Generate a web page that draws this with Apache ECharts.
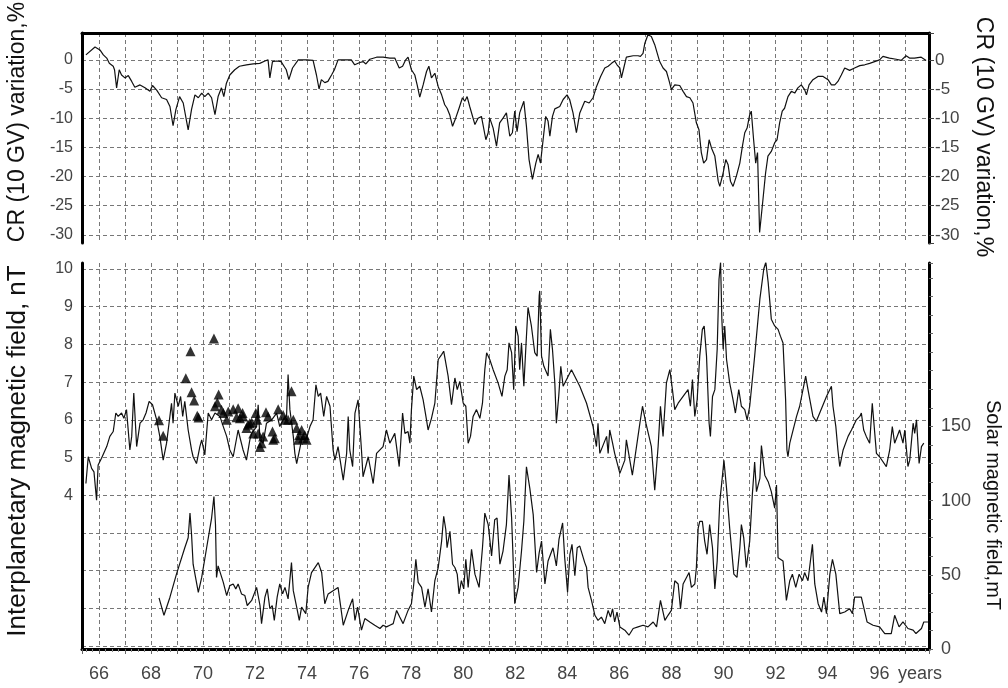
<!DOCTYPE html>
<html>
<head>
<meta charset="utf-8">
<script src="https://cdn.jsdelivr.net/npm/echarts@6/dist/echarts.min.js"></script>
<style>
html,body{margin:0;padding:0;background:#fff;}
#chart{width:1008px;height:688px;}
</style>
</head>
<body>
<div id="chart"></div>
<script>
// ---------- DATA ----------
// Cosmic ray (10 GV) variation, %  (top panel)
const crYears = [65.50,65.85,66.04,66.17,66.30,66.40,66.55,66.60,66.68,66.78,66.87,67.00,67.13,67.26,67.38,67.58,67.77,67.96,68.06,68.22,68.41,68.60,68.73,68.85,68.96,69.10,69.24,69.43,69.56,69.69,69.82,69.95,70.07,70.20,70.33,70.46,70.58,70.71,70.80,70.90,71.03,71.22,71.40,71.67,71.93,72.18,72.38,72.50,72.57,72.67,72.83,73.00,73.20,73.30,73.44,73.66,73.98,74.23,74.36,74.46,74.55,74.68,74.80,74.94,75.05,75.19,75.70,75.83,76.03,76.15,76.26,76.41,76.67,76.92,77.18,77.37,77.54,77.67,77.79,77.88,78.01,78.14,78.23,78.33,78.46,78.59,78.68,78.78,78.91,79.04,79.17,79.29,79.38,79.48,79.59,79.71,79.84,79.97,80.06,80.15,80.25,80.45,80.57,80.70,80.87,80.96,81.02,81.15,81.28,81.40,81.53,81.66,81.79,81.89,81.98,82.07,82.17,82.33,82.43,82.53,82.66,82.79,82.88,82.97,83.07,83.17,83.26,83.33,83.43,83.52,83.71,83.84,83.99,84.09,84.22,84.35,84.48,84.67,84.84,84.99,85.12,85.28,85.44,85.57,85.70,85.82,85.91,86.02,86.08,86.17,86.27,86.53,86.72,86.81,86.91,86.98,87.10,87.23,87.36,87.55,87.68,87.81,87.90,88.00,88.13,88.32,88.45,88.58,88.71,88.83,88.96,89.06,89.15,89.24,89.35,89.45,89.54,89.67,89.80,89.86,89.99,90.09,90.18,90.27,90.37,90.50,90.63,90.73,90.82,90.91,91.01,91.07,91.16,91.24,91.31,91.39,91.43,91.52,91.62,91.71,91.84,91.97,92.06,92.16,92.26,92.35,92.48,92.61,92.74,92.86,92.99,93.12,93.19,93.29,93.44,93.63,93.83,94.02,94.15,94.28,94.40,94.53,94.66,94.85,95.04,95.24,95.43,95.62,95.81,96.00,96.13,96.38,96.64,96.83,97.02,97.15,97.34,97.60,97.79];
const crValues = [0.85,2.2,1.7,0.85,0.3,-0.6,-1.1,-1.7,-4.8,-1.7,-2.6,-3.1,-2.7,-3.7,-4.7,-4.3,-4.8,-5.4,-4.4,-5.2,-6.5,-6.8,-8.0,-11.3,-8.5,-6.3,-7.4,-12.0,-8.5,-6.0,-6.5,-5.7,-6.3,-5.7,-6.5,-9.4,-6.3,-4.8,-6.3,-4.0,-2.6,-1.7,-1.1,-0.85,-0.7,-0.6,-0.2,0,-3.1,-0.3,-0.2,-0.3,-1.7,-3.4,-1.4,0,0,-0.1,-2.6,-5.0,-3.4,-3.9,-3.7,-2.6,-1.7,0,0,-0.85,-0.45,-0.3,-0.7,0.1,0.45,0.45,0.3,0.3,-1.4,-1.1,0,0.45,-1.7,-2.6,-4.3,-6.4,-4.3,-2.0,-1.1,-3.1,-2.3,-4.6,-6.0,-7.7,-8.3,-9.4,-11.4,-10.0,-8.3,-6.5,-7.1,-6.3,-8.0,-11.1,-10.0,-9.7,-13.7,-12.5,-10.0,-11.7,-14.8,-10.8,-10.0,-9.1,-13.1,-12.5,-8.8,-12.3,-9.1,-7.1,-11.4,-17.1,-20.5,-17.7,-16.2,-17.7,-13.7,-9.7,-10.5,-13.1,-9.7,-8.4,-8.0,-6.8,-6.0,-6.8,-9.1,-12.5,-9.1,-7.1,-7.4,-6.5,-4.6,-2.85,-1.4,-1.1,-0.6,-0.2,-0.85,-1.4,-3.1,-1.4,0.45,0.7,0.7,0.6,1.1,2.85,4.3,4.0,2.6,-0.3,-1.4,-2.0,-3.4,-5.1,-4.3,-4.4,-5.4,-6.3,-6.5,-7.4,-10.8,-12.0,-15.9,-17.7,-17.1,-13.7,-15.1,-16.5,-20.8,-21.7,-19.4,-17.1,-18.0,-20.8,-21.7,-19.9,-17.7,-14.8,-12.5,-11.7,-9.4,-8.8,-13.7,-17.7,-15.9,-29.6,-29.9,-23.9,-19.4,-16.5,-15.7,-14.2,-13.7,-10.8,-8.8,-8.3,-6.3,-5.4,-5.7,-4.8,-4.3,-5.1,-6.0,-4.3,-3.4,-2.85,-2.85,-3.4,-4.3,-4.3,-3.7,-2.6,-1.4,-1.8,-1.4,-1.0,-0.85,-0.6,-0.3,0,0.6,0.3,0.1,-0.1,0.7,0.3,0.3,0.45,-0.1];

// Interplanetary magnetic field, nT (bottom panel, left axis)
const imfYears = [65.50,65.59,65.72,65.81,65.91,65.97,66.10,66.30,66.42,66.55,66.65,66.74,66.87,66.96,67.06,67.19,67.26,67.34,67.45,67.58,67.70,67.81,67.93,68.06,68.22,68.34,68.47,68.60,68.79,68.85,68.92,69.05,69.14,69.22,69.30,69.43,69.56,69.62,69.75,69.88,69.95,70.07,70.20,70.33,70.46,70.65,70.78,70.91,71.03,71.16,71.35,71.54,71.67,71.80,71.87,72.06,72.12,72.19,72.31,72.44,72.64,72.83,72.95,73.08,73.21,73.27,73.34,73.47,73.53,73.60,73.79,73.98,74.11,74.23,74.34,74.43,74.52,74.64,74.75,74.88,75.00,75.07,75.19,75.39,75.52,75.58,75.64,75.75,75.84,75.96,76.09,76.15,76.35,76.54,76.67,76.92,77.05,77.18,77.37,77.54,77.67,77.76,77.88,77.95,78.01,78.10,78.21,78.33,78.46,78.59,78.65,78.78,78.91,79.04,79.17,79.25,79.33,79.42,79.55,79.68,79.77,79.87,80.00,80.10,80.19,80.28,80.38,80.51,80.64,80.74,80.83,80.90,81.02,81.15,81.34,81.49,81.60,81.69,81.76,81.86,81.94,82.02,82.11,82.17,82.24,82.33,82.41,82.49,82.62,82.75,82.84,82.92,82.94,83.01,83.10,83.26,83.35,83.43,83.52,83.58,83.67,83.75,83.84,84.16,84.48,84.74,84.99,85.12,85.18,85.25,85.51,85.57,85.63,85.74,85.82,86.02,86.21,86.27,86.50,86.79,86.89,87.02,87.14,87.23,87.36,87.49,87.58,87.68,87.81,87.94,88.04,88.13,88.26,88.45,88.64,88.73,88.81,88.90,88.99,89.09,89.19,89.26,89.35,89.45,89.50,89.58,89.67,89.76,89.83,89.89,89.94,89.99,90.05,90.12,90.24,90.37,90.46,90.59,90.69,90.82,90.91,91.01,91.20,91.40,91.55,91.63,91.72,91.84,91.97,92.10,92.19,92.29,92.39,92.44,92.48,92.55,92.81,92.93,93.16,93.25,93.44,93.57,93.70,93.96,94.15,94.21,94.32,94.40,94.47,94.60,94.79,94.92,95.11,95.24,95.30,95.39,95.49,95.62,95.72,95.88,96.00,96.26,96.39,96.49,96.58,96.77,96.90,96.97,97.09,97.16,97.29,97.35,97.42,97.52,97.61,97.70];
const imfValues = [4.31,5.02,4.71,4.62,3.87,4.8,4.98,5.29,5.56,5.69,6.18,6.09,6.18,6.04,6.27,5.2,5.56,6.71,5.29,5.91,6.0,6.18,6.49,6.4,6.0,5.56,4.93,5.38,6.44,5.91,6.71,6.36,6.62,6.09,6.49,5.73,5.2,5.02,4.84,5.29,5.47,5.07,6.18,6.0,6.18,6.09,5.82,5.56,5.2,5.02,5.73,5.2,4.93,5.47,5.64,5.82,6.4,5.47,5.38,5.91,6.0,6.18,5.82,6.0,6.09,7.2,6.27,5.56,5.11,4.84,5.47,5.51,5.82,6.0,6.93,6.62,6.71,6.09,6.62,6.36,5.2,4.93,5.29,4.4,5.11,6.09,5.2,4.76,6.18,6.53,5.2,4.49,5.02,4.31,5.11,5.29,5.73,5.38,5.64,4.76,6.18,5.64,5.69,5.38,6.27,7.16,6.8,6.89,6.53,6.0,5.73,6.04,6.44,7.6,7.73,7.82,7.51,7.16,6.4,7.11,6.8,7.02,6.44,6.36,5.38,5.56,6.09,6.27,6.04,6.44,7.33,7.78,7.6,7.33,6.98,6.62,7.16,7.33,8.04,7.78,6.8,8.49,8.22,7.33,8.04,6.89,7.96,8.98,8.49,7.78,7.69,9.29,9.42,7.69,7.42,7.16,8.4,7.87,6.98,5.91,6.62,7.42,6.89,7.33,6.89,6.44,5.82,5.29,5.91,5.11,5.56,5.11,5.73,5.38,5.11,4.58,4.93,5.47,4.53,5.91,6.36,5.91,5.56,5.29,4.13,5.29,6.36,5.56,6.98,7.33,6.8,6.27,6.44,6.62,6.8,6.36,7.07,6.09,6.53,7.69,8.4,8.49,7.69,5.91,5.56,6.62,6.8,7.87,9.73,10.18,8.67,7.87,8.49,7.6,6.98,6.53,6.18,6.8,6.36,6.27,6.0,6.36,7.69,9.2,10.0,10.18,9.64,8.67,8.49,8.4,8.22,8.04,6.53,5.2,5.02,5.38,6.09,6.36,7.16,6.8,6.09,5.96,6.18,6.62,6.89,6.36,5.82,5.2,4.76,5.2,5.56,5.73,6.0,6.09,6.18,5.73,5.56,5.38,6.44,5.11,5.02,4.76,5.2,5.82,5.38,5.73,5.38,5.73,4.76,4.93,5.91,5.64,6.0,4.84,5.29,5.38];

// Satellite IMF points (triangles), nT
const triYears = [68.31,68.47,69.34,69.52,69.56,69.66,69.78,69.83,70.42,70.46,70.55,70.60,70.71,70.78,70.91,70.97,71.16,71.29,71.35,71.42,71.52,71.54,71.67,71.73,71.80,71.87,71.93,72.03,72.08,72.12,72.19,72.25,72.31,72.42,72.50,72.67,72.70,72.76,72.89,73.08,73.15,73.27,73.40,73.47,73.60,73.66,73.70,73.79,73.85,73.91,73.98];
const triValues = [5.99,5.58,7.1,7.82,6.73,6.51,6.11,6.06,8.16,6.36,6.46,6.67,6.27,6.18,6.0,6.22,6.28,6.07,6.31,6.04,6.18,6.09,5.78,5.87,5.91,5.93,5.64,6.18,6.0,5.64,5.28,5.38,5.56,6.2,6.09,5.69,5.47,5.51,6.28,6.13,6.0,6.0,6.76,6.0,5.78,5.47,5.6,5.73,5.51,5.6,5.47];

// Solar magnetic field, mT (bottom panel, right axis)
const smfYears = [68.31,68.50,68.73,68.98,69.30,69.43,69.50,69.56,69.62,69.82,69.95,70.14,70.33,70.42,70.48,70.52,70.58,70.78,70.91,71.03,71.16,71.26,71.35,71.48,71.61,71.70,71.87,72.06,72.19,72.25,72.38,72.47,72.57,72.66,72.74,72.85,72.95,73.06,73.15,73.27,73.40,73.47,73.60,73.70,73.79,73.95,74.04,74.17,74.43,74.56,74.68,74.81,75.19,75.39,75.58,75.75,75.84,75.94,76.09,76.22,76.41,76.60,76.80,76.92,77.05,77.18,77.31,77.44,77.56,77.69,77.88,78.01,78.10,78.18,78.27,78.40,78.53,78.65,78.78,78.91,79.04,79.17,79.25,79.33,79.38,79.49,79.59,79.68,79.77,79.84,79.93,80.02,80.10,80.19,80.32,80.45,80.61,80.74,80.83,80.96,81.09,81.21,81.30,81.41,81.53,81.66,81.76,81.86,81.98,82.11,82.24,82.33,82.43,82.56,82.69,82.82,82.92,83.01,83.14,83.26,83.45,83.58,83.68,83.82,83.90,84.01,84.10,84.18,84.29,84.38,84.48,84.67,84.74,84.80,84.93,85.06,85.18,85.31,85.44,85.57,85.66,85.74,85.82,85.91,86.02,86.21,86.37,86.53,86.72,86.91,87.10,87.30,87.43,87.58,87.75,87.87,88.00,88.13,88.26,88.35,88.45,88.58,88.68,88.77,88.90,88.96,89.03,89.09,89.19,89.28,89.37,89.47,89.58,89.67,89.76,89.86,89.94,90.02,90.12,90.24,90.40,90.52,90.63,90.69,90.78,90.88,91.01,91.11,91.20,91.27,91.40,91.46,91.59,91.72,91.84,91.97,92.04,92.10,92.29,92.42,92.55,92.65,92.78,92.91,93.04,93.12,93.25,93.42,93.51,93.64,93.77,93.86,93.96,94.09,94.19,94.32,94.47,94.66,94.85,94.96,95.04,95.30,95.52,95.75,96.00,96.20,96.45,96.58,96.75,96.90,97.09,97.29,97.40,97.61,97.70,97.86];
const smfValues = [34.4,22.7,34.9,50.4,68.2,74.9,91.5,77.1,57.1,38.2,48.2,68.2,88.2,102.7,83.8,48.2,56,44.9,36,42.7,43.8,40.5,43.8,37.1,36,29.3,32.7,41.5,29.3,17.1,34.9,40.5,27.1,29.3,19.3,34.9,43.8,37.1,41.5,33.8,58.2,39.3,28.2,19.3,28.2,23.8,41.5,51.5,58.2,51.5,30.5,37.1,41.5,16,26,33.8,19.3,28.2,12.7,20.5,18.2,16,13.8,16,14.9,16,17.1,26,21.5,17.1,26,30.5,43.8,60.4,44.9,41.5,28.2,40.5,24.9,46,54.9,72.7,89.3,80.5,68.2,79.3,57.1,54.9,50.4,37.1,46,40.5,60.4,41.5,67.1,50.4,41.5,68.2,91.5,83.8,62.7,87.1,88.2,57.1,66,83.8,117.1,88.2,30.5,41.5,66,86,122.7,108.2,90.5,51.5,64.9,72.7,43.8,59.3,68.2,56,73.8,84.9,61.5,38.2,63.8,70.5,49.3,68.2,69.3,58.2,54.9,41.5,32.7,22.7,19.3,21.5,17.1,26,21.5,27.1,18.2,24.9,14.9,12.7,9.3,13.8,14.9,16,14.9,18.2,14.9,32.7,19.3,22.7,26,46,43.8,27.1,43.8,48.2,51.5,41.5,43.8,54.9,81.5,86,86,72.7,63.8,83.8,68.2,40.5,59.3,99.3,112.7,127.1,108.2,81.5,50.4,48.2,68.2,83.8,74.9,54.9,72.7,103.8,126,106,114.9,137.1,117.1,112.7,106,94.9,110.5,61.5,59.3,32.7,46,50.4,41.5,50.4,46,51.5,46,70.5,43.8,30.5,24.9,34.9,23.8,50.4,60.4,50.4,23.8,24.9,27.1,23.8,34.9,34.9,18.2,16,14.9,10.4,10.4,22.7,14.9,18.2,13.8,12.7,10.4,13.8,18.2,18.2];

// Tick labels
const xLabelYears = [66,68,70,72,74,76,78,80,82,84,86,88,90,92,94,96];
const crTicks = [0,-5,-10,-15,-20,-25,-30];
const imfTicks = [4,5,6,7,8,9,10];
const smfTicks = [0,50,100,150];

// ---------- CHART ----------
const zip = (xs, ys) => xs.map((x, i) => [x, ys[i]]);
const FONT = '"Liberation Sans", Arial, sans-serif';
const LBL = '#444';
const gridLine = {show: true, showMinLine: false, showMaxLine: false, lineStyle: {color: '#777', width: 1, type: [4, 3]}};
const frame = {show: true, onZero: false, lineStyle: {color: '#000', width: 3}};
const inList = (list) => (v) => {
  const r = Math.round(v * 1000) / 1000;
  return list.indexOf(r) >= 0 ? String(r) : '';
};

const chart = echarts.init(document.getElementById('chart'), null, {renderer: 'canvas'});
chart.setOption({
  animation: false,
  backgroundColor: '#fff',
  grid: [
    {left: 82, top: 33, width: 847, height: 210},
    {left: 82, top: 263, width: 847, height: 386}
  ],
  xAxis: [
    {gridIndex: 0, type: 'value', position: 'top', min: 65.35, max: 97.9, minInterval: 1, maxInterval: 1,
     axisLine: frame, axisTick: {show: false}, axisLabel: {show: false}, splitLine: gridLine},
    {gridIndex: 1, type: 'value', position: 'bottom', min: 65.35, max: 97.9, minInterval: 1, maxInterval: 1,
     axisLine: frame,
     axisTick: {show: true, length: 5, lineStyle: {color: '#666'}},
     minorTick: {show: true, splitNumber: 4, length: 3, lineStyle: {color: '#888'}},
     axisLabel: {fontSize: 18, color: LBL, fontFamily: FONT, margin: 16, formatter: inList(xLabelYears)},
     splitLine: gridLine}
  ],
  yAxis: [
    {gridIndex: 0, type: 'value', position: 'left', min: -31.4, max: 4.6, minInterval: 5, maxInterval: 5,
     axisLine: frame, axisTick: {show: false},
     axisLabel: {fontSize: 16, color: LBL, fontFamily: FONT, margin: 9, formatter: inList(crTicks)},
     splitLine: gridLine},
    {gridIndex: 0, type: 'value', position: 'right', min: -31.4, max: 4.6, minInterval: 5, maxInterval: 5,
     axisLine: frame, axisTick: {show: true, length: 5, lineStyle: {color: '#444'}},
     axisLabel: {fontSize: 17, color: LBL, fontFamily: FONT, margin: 6, formatter: inList(crTicks)},
     splitLine: {show: false}},
    {gridIndex: 1, type: 'value', position: 'left', min: -0.08, max: 10.16, minInterval: 1, maxInterval: 1,
     axisLine: frame, axisTick: {show: false},
     axisLabel: {fontSize: 16, color: LBL, fontFamily: FONT, margin: 9, formatter: inList(imfTicks)},
     splitLine: gridLine},
    {gridIndex: 1, type: 'value', position: 'right', min: 0, max: 260, minInterval: 12.5, maxInterval: 12.5,
     axisLine: frame, axisTick: {show: true, length: 4, lineStyle: {color: '#666'}},
     axisLabel: {fontSize: 18, color: LBL, fontFamily: FONT, margin: 12, formatter: inList(smfTicks)},
     splitLine: {show: false}}
  ],
  series: [
    {type: 'line', xAxisIndex: 0, yAxisIndex: 0, data: zip(crYears, crValues), symbol: 'none',
     lineStyle: {color: '#111', width: 1.2}},
    {type: 'line', xAxisIndex: 1, yAxisIndex: 2, data: zip(imfYears, imfValues), symbol: 'none',
     lineStyle: {color: '#111', width: 1.2}},
    {type: 'line', xAxisIndex: 1, yAxisIndex: 3, data: zip(smfYears, smfValues), symbol: 'none',
     lineStyle: {color: '#111', width: 1.2}},
    {type: 'scatter', xAxisIndex: 1, yAxisIndex: 2, data: zip(triYears, triValues), symbol: 'triangle',
     symbolSize: 10, itemStyle: {color: '#000'}, z: 5}
  ],
  graphic: [
    {type: 'text', x: 18, y: 122, rotation: Math.PI / 2,
     style: {text: 'CR (10 GV) variation,%', font: '23px ' + FONT, fill: '#111', align: 'center', verticalAlign: 'middle'}},
    {type: 'text', x: 983, y: 137, rotation: -Math.PI / 2,
     style: {text: 'CR (10 GV) variation,%', font: '23px ' + FONT, fill: '#111', align: 'center', verticalAlign: 'middle'}},
    {type: 'text', x: 18, y: 451, rotation: Math.PI / 2,
     style: {text: 'Interplanetary magnetic field, nT', font: '26px ' + FONT, fill: '#111', align: 'center', verticalAlign: 'middle'}},
    {type: 'text', x: 993, y: 505, rotation: -Math.PI / 2,
     style: {text: 'Solar magnetic field,mT', font: '20px ' + FONT, fill: '#111', align: 'center', verticalAlign: 'middle'}},
    {type: 'text', x: 898, y: 674,
     style: {text: 'years', font: '18px ' + FONT, fill: LBL, align: 'left', verticalAlign: 'middle'}}
  ]
});
</script>
</body>
</html>
